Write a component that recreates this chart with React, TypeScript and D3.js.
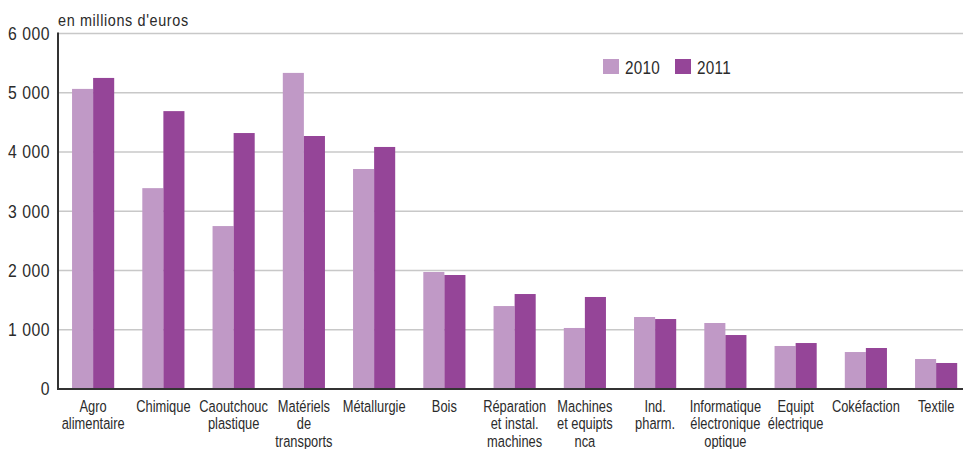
import React from "react";
import * as d3 from "d3";

const categories: string[] = [
  "Agro alimentaire", "Chimique", "Caoutchouc plastique", "Matériels de transports",
  "Métallurgie", "Bois", "Réparation et instal. machines", "Machines et equipts nca",
  "Ind. pharm.", "Informatique électronique optique", "Equipt électrique", "Cokéfaction", "Textile",
];
const categoryLines: string[][] = [
  ["Agro", "alimentaire"], ["Chimique"], ["Caoutchouc", "plastique"], ["Matériels", "de", "transports"],
  ["Métallurgie"], ["Bois"], ["Réparation", "et instal.", "machines"], ["Machines", "et equipts", "nca"],
  ["Ind.", "pharm."], ["Informatique", "électronique", "optique"], ["Equipt", "électrique"], ["Cokéfaction"], ["Textile"],
];
const seriesNames: string[] = ["2010", "2011"];
const values2010: number[] = [5065, 3390, 2750, 5335, 3713, 1975, 1400, 1030, 1215, 1114, 726, 624, 506];
const values2011: number[] = [5250, 4690, 4320, 4270, 4085, 1924, 1603, 1553, 1181, 911, 776, 692, 439];
const yTicks: number[] = [0, 1000, 2000, 3000, 4000, 5000, 6000];
const yTickLabels: string[] = ["0", "1 000", "2 000", "3 000", "4 000", "5 000", "6 000"];
const unitLabel = "en millions d'euros";

const colors = ["#c099c6", "#954598"];
const FONT = "'Liberation Sans', Arial, sans-serif";
const TEXT = "#2b2b2b";

export default function App() {
  const W = 963, H = 449;
  const left = 58, bottom = 389, top = 33.5;
  const y = d3.scaleLinear().domain([0, 6000]).range([bottom, top]);
  const x = d3.scaleBand<string>().domain(categories).range([left, 971.25]).paddingInner(0.4).paddingOuter(0.2);
  const xs = d3.scaleBand<string>().domain(seriesNames).range([0, x.bandwidth()]);
  const series = [values2010, values2011];

  return (
    <svg width={W} height={H} style={{ position: "absolute", left: 0, top: 0, display: "block", background: "#fff" }}>
      {yTicks.filter(t => t > 0).map(t => (
        <line key={t} x1={left} x2={W} y1={y(t)} y2={y(t)} stroke="#c8c8c8" strokeWidth={1.6} />
      ))}
      {categories.map((c, i) =>
        series.map((vals, s) => (
          <rect key={c + s} x={(x(c) as number) + (xs(seriesNames[s]) as number)} y={y(vals[i])}
            width={xs.bandwidth()} height={bottom - y(vals[i])} fill={colors[s]} />
        ))
      )}
      <line x1={left} x2={left} y1={top - 1} y2={bottom} stroke="#333" strokeWidth={2} />
      <line x1={left - 1} x2={W} y1={bottom} y2={bottom} stroke="#333" strokeWidth={2} />
      {yTicks.map((t, i) => (
        <g key={t} transform={`translate(50,${y(t)}) scale(0.9,1)`}>
          <text x={0} y={0} dy="0.36em" textAnchor="end" fontFamily={FONT} fontSize={17.5}
            letterSpacing={0.6} fill={TEXT}>{yTickLabels[i]}</text>
        </g>
      ))}
      <g transform="translate(58,26) scale(0.9,1)">
        <text x={0} y={0} fontFamily={FONT} fontSize={16} letterSpacing={0.7} fill={TEXT}>{unitLabel}</text>
      </g>
      {categories.map((c, i) => (
        <g key={c} transform={`translate(${(x(c) as number) + x.bandwidth() / 2},0) scale(0.78,1)`}>
          <text textAnchor="middle" fontFamily={FONT} fontSize={16.5} fill={TEXT}>
            {categoryLines[i].map((ln, k) => (
              <tspan key={k} x={0} y={412 + k * 17.5}>{ln}</tspan>
            ))}
          </text>
        </g>
      ))}
      {seriesNames.map((s, i) => (
        <g key={s}>
          <rect x={603 + i * 72} y={59} width={16} height={15} fill={colors[i]} />
          <g transform={`translate(${625 + i * 72},74) scale(0.85,1)`}>
            <text x={0} y={0} fontFamily={FONT} fontSize={18} letterSpacing={0.3} fill={TEXT}>{s}</text>
          </g>
        </g>
      ))}
    </svg>
  );
}
